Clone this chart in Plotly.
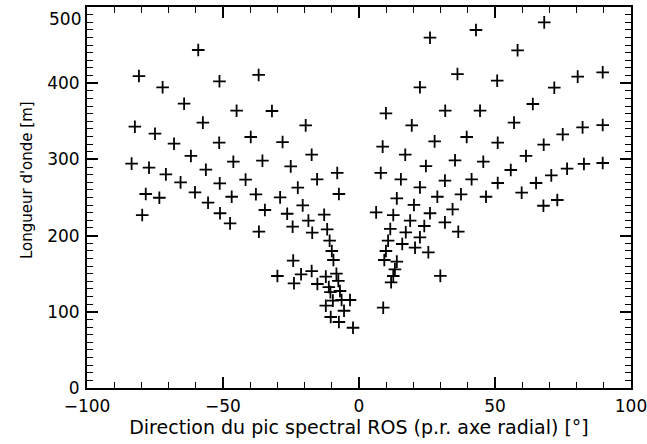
import plotly.graph_objects as go

# Direction of ROS spectral peak (deg, rel. to radial axis) and wavelength (m)
direction_left = [
    -59.1, -80.9, -51.3, -36.9, -72.2, -64.3, -45.0, -32.0, -57.4, -82.4,
    -75.0, -68.0, -39.8, -51.4, -61.8, -83.6, -77.2, -46.2, -35.5, -71.0,
    -56.3, -65.6, -51.2, -41.7, -28.1, -78.4, -73.4, -60.3, -46.8, -37.9,
    -19.6, -17.4, -25.1, -15.4, -8.0, -22.5, -29.0, -7.4, -79.7, -55.5,
    -51.1, -47.4, -36.8, -34.6, -20.7, -26.4, -12.8, -18.6, -24.4, -11.7,
    -17.2, -10.8, -10.0, -9.4, -24.2, -30.0, -21.3, -17.4, -12.2, -8.3,
    -23.9, -15.3, -7.6, -11.1, -10.5, -7.0, -9.6, -6.4, -3.3, -12.2,
    -5.5, -10.4, -7.4, -2.2,
]
wavelength_left = [
    443.6, 409.4, 402.5, 410.8, 394.6, 373.1, 363.9, 363.5, 348.2, 342.9,
    333.7, 320.6, 329.4, 321.9, 304.5, 294.4, 289.1, 297.0, 298.3, 280.3,
    286.5, 269.9, 268.6, 273.4, 322.8, 254.6, 249.7, 256.8, 251.0, 254.2,
    344.7, 306.2, 290.9, 273.9, 282.2, 262.9, 250.2, 254.6, 227.0, 243.2,
    229.3, 216.1, 205.1, 233.6, 239.7, 228.7, 227.4, 219.6, 211.7, 208.3,
    203.8, 193.3, 179.8, 168.0, 167.1, 147.0, 149.2, 153.5, 146.1, 150.0,
    137.4, 136.5, 140.6, 132.5, 125.8, 127.3, 114.6, 115.5, 115.5, 108.0,
    101.4, 93.2, 86.6, 79.1,
]
direction_right = [
    26.1, 36.2, 22.4, 9.9, 31.7, 19.4, 27.8, 8.7, 17.0, 24.6,
    35.3, 15.4, 8.0, 31.6, 22.4, 13.9, 28.8, 68.1, 43.0, 58.3,
    50.8, 80.4, 89.6, 71.8, 44.5, 63.9, 57.0, 39.6, 82.2, 89.6,
    74.9, 51.0, 67.9, 45.7, 61.4, 89.6, 82.7, 76.5, 70.7, 55.8,
    41.4, 51.0, 65.1, 37.5, 46.7, 59.8, 67.8, 72.9, 34.4, 31.6,
    36.5, 29.9, 20.2, 6.3, 12.6, 26.1, 18.8, 11.5, 24.0, 17.2,
    10.7, 22.4, 15.9, 20.6, 9.9, 25.5, 9.3, 13.9, 13.2, 12.6,
    11.8, 8.9,
]
wavelength_right = [
    459.7, 412.0, 394.6, 360.5, 363.9, 344.7, 323.7, 316.7, 306.2, 291.3,
    298.8, 273.9, 282.2, 272.1, 263.3, 248.9, 251.0, 479.8, 469.8, 443.2,
    403.3, 408.6, 414.3, 394.1, 363.9, 372.7, 348.2, 329.4, 342.0, 345.1,
    332.9, 321.9, 319.3, 297.0, 304.5, 295.3, 294.0, 287.8, 279.1, 286.1,
    273.9, 269.0, 269.0, 254.2, 251.0, 256.3, 239.2, 246.7, 234.5, 217.4,
    205.1, 147.2, 240.2, 230.5, 227.0, 229.3, 219.6, 208.7, 212.6, 204.3,
    193.3, 197.8, 189.0, 184.1, 179.8, 178.1, 168.0, 165.8, 155.8, 147.0,
    138.7, 105.4,
]

x_ticks = [-100, -50, 0, 50, 100]
x_ticktext = ["\u2212100", "\u221250", "0", "50", "100"]
y_ticks = [0, 100, 200, 300, 400, 500]
y_ticktext = ["0", "100", "200", "300", "400", "500"]

x_title = "Direction du pic spectral ROS (p.r. axe radial) [°]"
y_title = "Longueur d'onde [m]"

FONT = "DejaVu Sans"

fig = go.Figure()
fig.add_trace(go.Scatter(
    x=direction_left + direction_right,
    y=wavelength_left + wavelength_right,
    mode="markers",
    marker=dict(symbol="cross-thin", size=9, color="black",
                line=dict(color="black", width=1.8)),
    showlegend=False,
))

axis_common = dict(
    showgrid=False, zeroline=False,
    showline=True, linecolor="black", linewidth=2,
    ticks="inside", ticklen=11, tickwidth=1.5, tickcolor="black",
    mirror="ticks",
    tickfont=dict(family=FONT, size=17, color="black"),
    ticklabeloverflow="allow",
    minor=dict(ticks="inside", ticklen=6, tickwidth=1.2, tickcolor="black",
               dtick=10, showgrid=False),
)

fig.update_xaxes(
    range=[-100, 100], tickvals=x_ticks, ticktext=x_ticktext,
    title=dict(text=x_title,
               font=dict(family=FONT, size=19, color="black"), standoff=5),
    ticklabelstandoff=2,
    **axis_common,
)
# top label (500) is drawn as an annotation, shifted down to stay inside the page
fig.update_yaxes(
    range=[0, 500], tickvals=y_ticks,
    ticktext=y_ticktext[:-1] + [""],
    ticklabelstandoff=2,
    **axis_common,
)
fig.add_annotation(
    text=y_ticktext[-1], xref="paper", yref="y",
    x=0, y=y_ticks[-1], xanchor="right", yanchor="top",
    xshift=-4, yshift=0, showarrow=False,
    font=dict(family=FONT, size=17, color="black"),
)

fig.add_annotation(
    text=y_title, textangle=-90,
    xref="paper", yref="paper",
    x=(27 - 87) / 544, y=(388 - 180) / 381,
    xanchor="center", yanchor="middle", showarrow=False,
    font=dict(family=FONT, size=15, color="black"),
)

fig.update_layout(
    width=647, height=444,
    margin=dict(l=87, r=16, t=7, b=56, autoexpand=False),
    paper_bgcolor="white", plot_bgcolor="white",
)

fig.write_html("out.html")
